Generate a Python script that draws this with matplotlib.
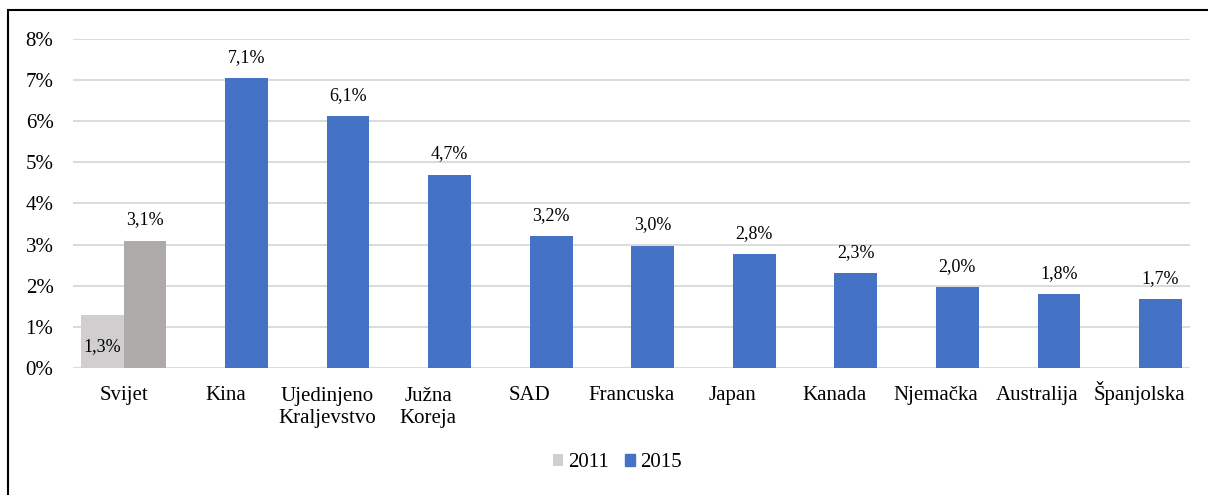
import numpy as np
import matplotlib.pyplot as plt
from matplotlib.patches import Rectangle

plt.rcParams['font.family'] = ['Liberation Serif', 'DejaVu Serif']

countries = ['Svijet', 'Kina', 'Ujedinjeno\nKraljevstvo', 'Južna\nKoreja', 'SAD', 'Francuska',
             'Japan', 'Kanada', 'Njemačka', 'Australija', 'Španjolska']
v2011 = [1.3] + [np.nan] * 10
v2015 = [3.1, 7.05, 6.12, 4.7, 3.2, 2.97, 2.77, 2.3, 1.96, 1.8, 1.67]
lab2011 = ['1,3%']
lab2015 = ['3,1%', '7,1%', '6,1%', '4,7%', '3,2%', '3,0%', '2,8%', '2,3%', '2,0%', '1,8%', '1,7%']

c2011 = '#D0CECE'
c2015 = '#4472C4'
c_world = '#AEAAAA'

fig = plt.figure(figsize=(12.08, 4.95), dpi=100)
ax = fig.add_axes([0.0604, 0.2566, 0.9246, 0.6646])

x = np.arange(len(countries))
w = 0.42
b1 = ax.bar(x - w / 2, v2011, w, color=c2011, label='2011', zorder=2)
cols = [c_world] + [c2015] * (len(countries) - 1)
b2 = ax.bar(x + w / 2, v2015, w, color=cols, label='2015', zorder=2)

for i, v in enumerate(v2015):
    ax.annotate(lab2015[i], (x[i] + w / 2, v), xytext=(0, 15), textcoords='offset points',
                ha='center', va='center', fontsize=13)
ax.annotate(lab2011[0], (x[0] - w / 2, v2011[0]), xytext=(0, -23), textcoords='offset points',
            ha='center', va='center', fontsize=13)

# category labels, first line baseline ~32 px under the axis
for i, name in enumerate(countries):
    n = name.count('\n')
    ax.annotate(name, (x[i], 0), xycoords=('data', 'axes fraction'),
                xytext=(0, -32 - 23 * n), textcoords='offset pixels',
                ha='center', va='baseline', fontsize=15, linespacing=1.2,
                multialignment='center')

ax.set_xlim(-0.5, len(countries) - 0.5)
ax.set_ylim(0, 8)
ax.set_yticks(np.arange(0, 9, 1))
ax.set_yticklabels([f'{i}%' for i in range(9)], fontsize=15)
ax.set_xticks(x)
ax.set_xticklabels([])
ax.tick_params(axis='x', length=0)
ax.tick_params(axis='y', length=0, pad=14)
ax.yaxis.grid(True, color='#D9D9D9', linewidth=1.3, zorder=0)
ax.set_axisbelow(True)
for s in ax.spines.values():
    s.set_visible(False)

leg = fig.legend(handles=[b1, b2], labels=['2011', '2015'], loc='center',
                 bbox_to_anchor=(0.511, 0.065), ncol=2, frameon=False, fontsize=15,
                 handlelength=0.5, handleheight=0.5, handletextpad=0.25, columnspacing=0.75)
leg.legend_handles[1].set_color(c2015)

fig.patches.append(Rectangle((8 / 1208, -0.2), 1.2, 1.2 - 10 / 495, transform=fig.transFigure,
                             fill=False, edgecolor='black', linewidth=1.5))

fig.savefig('out.png', dpi=100)
